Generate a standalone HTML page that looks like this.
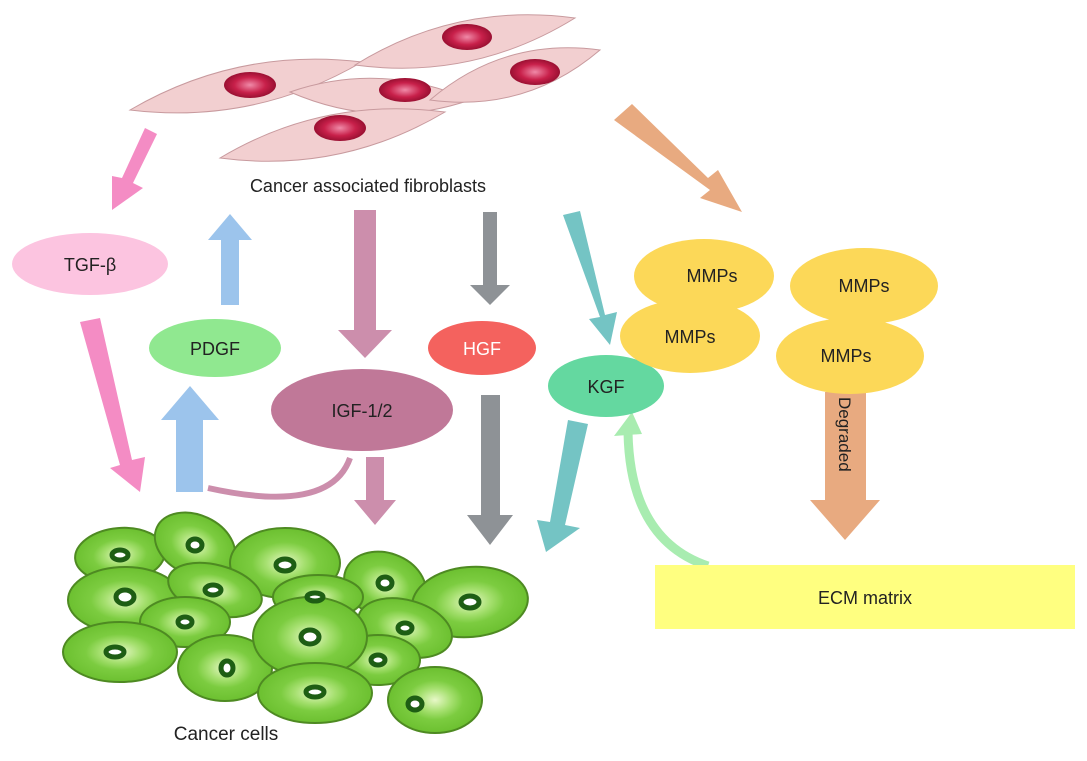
<!DOCTYPE html>
<html><head><meta charset="utf-8"><style>
body{margin:0;background:#fff}
svg text{font-family:"Liberation Sans",Arial,sans-serif}
</style></head><body>
<svg width="1087" height="756" viewBox="0 0 1087 756" xmlns="http://www.w3.org/2000/svg">
<defs>
<radialGradient id="nuc" cx="50%" cy="50%" r="50%"><stop offset="0" stop-color="#f08aa8"/><stop offset="0.6" stop-color="#c8204a"/><stop offset="1" stop-color="#9a1032"/></radialGradient>
<radialGradient id="cell" cx="50%" cy="50%" r="50%"><stop offset="0" stop-color="#e8f8c8"/><stop offset="0.35" stop-color="#a6e070"/><stop offset="0.6" stop-color="#7ccc40"/><stop offset="1" stop-color="#6cc030"/></radialGradient>
</defs>
<g fill="#222">
<!-- fibroblasts -->
<g fill="#f2cfd0" stroke="#c89a9e" stroke-width="1">
<path d="M130,110 Q254,125 362,62 Q238,47 130,110Z"/>
<path d="M355,65 Q473,81 575,18 Q457,2 355,65Z"/>
<path d="M290,92 Q380,131 470,100 Q380,61 290,92Z"/>
<path d="M430,100 Q526,113 600,50 Q504,37 430,100Z"/>
<path d="M220,158 Q340,174 445,112 Q324,96 220,158Z"/>
</g>
<g fill="url(#nuc)">
<ellipse cx="250" cy="85" rx="26" ry="13"/>
<ellipse cx="467" cy="37" rx="25" ry="13"/>
<ellipse cx="405" cy="90" rx="26" ry="12"/>
<ellipse cx="535" cy="72" rx="25" ry="13"/>
<ellipse cx="340" cy="128" rx="26" ry="13"/>
</g>
<text x="368" y="192" font-size="18" text-anchor="middle">Cancer associated fibroblasts</text>

<polygon points="145,128 157,134 133,183 143,188 112,210 112,176 122,178" fill="#f48cc4"/>
<polygon points="80,322 100,318 132,460 145,457 140,492 110,468 120,465" fill="#f48cc4"/>
<polygon points="221,305 239,305 239,240 252,240 230,214 208,240 221,240" fill="#9cc4ec"/>
<polygon points="176,492 203,492 203,420 219,420 190,386 161,420 176,420" fill="#9cc4ec"/>
<polygon points="354,210 376,210 376,330 392,330 365,358 338,330 354,330" fill="#cc8eac"/>
<polygon points="366,457 384,457 384,500 396,500 375,525 354,500 366,500" fill="#cc8eac"/>
<path d="M350,458 Q330,515 208,488" fill="none" stroke="#cc8eac" stroke-width="6"/>
<polygon points="483,212 497,212 497,285 510,285 490,305 470,285 483,285" fill="#8e9296"/>
<polygon points="481,395 500,395 500,515 513,515 490,545 467,515 481,515" fill="#8e9296"/>
<polygon points="563,215 580,211 605,315 617,312 610,345 589,319 600,317" fill="#74c4c4"/>
<polygon points="568,420 588,424 565,525 580,528 546,552 537,520 550,522" fill="#74c4c4"/>
<path d="M708,566 Q630,540 628,432" fill="none" stroke="#a8ecb0" stroke-width="9"/>
<polygon points="614,436 642,434 632,412" fill="#a8ecb0"/>
<polygon points="614,120 632,104 708,178 718,170 742,212 700,198 710,190" fill="#e8aa80"/>
<polygon points="825,392 866,392 866,500 880,500 845,540 810,500 825,500" fill="#e8aa80"/>
<text x="0" y="0" font-size="17" transform="translate(839,397) rotate(90)">Degraded</text>

<ellipse cx="90" cy="264" rx="78" ry="31" fill="#fcc4e0"/>
<text x="90" y="271" font-size="18" text-anchor="middle">TGF-β</text>
<ellipse cx="215" cy="348" rx="66" ry="29" fill="#90e890"/>
<text x="215" y="355" font-size="18" text-anchor="middle">PDGF</text>
<ellipse cx="362" cy="410" rx="91" ry="41" fill="#c07898"/>
<text x="362" y="417" font-size="18" text-anchor="middle">IGF-1/2</text>
<ellipse cx="482" cy="348" rx="54" ry="27" fill="#f4625e"/>
<text x="482" y="355" font-size="18" text-anchor="middle" fill="#fff">HGF</text>
<ellipse cx="606" cy="386" rx="58" ry="31" fill="#64d8a0"/>
<text x="606" y="393" font-size="18" text-anchor="middle">KGF</text>
<g fill="#fcd858">
<ellipse cx="704" cy="276" rx="70" ry="37"/>
<ellipse cx="864" cy="286" rx="74" ry="38"/>
<ellipse cx="690" cy="336" rx="70" ry="37"/>
<ellipse cx="850" cy="356" rx="74" ry="38"/>
</g>
<g font-size="18" text-anchor="middle">
<text x="712" y="282">MMPs</text><text x="864" y="292">MMPs</text>
<text x="690" y="343">MMPs</text><text x="846" y="362">MMPs</text>
</g>
<rect x="655" y="565" width="420" height="64" fill="#ffff80"/>
<text x="865" y="604" font-size="18" text-anchor="middle">ECM matrix</text>

<g stroke="#4e8a22" stroke-width="2" fill="url(#cell)">
<ellipse cx="120" cy="555" rx="45" ry="27" transform="rotate(-5 120 555)"/>
<ellipse cx="195" cy="545" rx="42" ry="30" transform="rotate(25 195 545)"/>
<ellipse cx="285" cy="563" rx="55" ry="35"/>
<ellipse cx="385" cy="585" rx="42" ry="32" transform="rotate(20 385 585)"/>
<ellipse cx="125" cy="600" rx="57" ry="33"/>
<ellipse cx="215" cy="590" rx="48" ry="25" transform="rotate(15 215 590)"/>
<ellipse cx="470" cy="602" rx="58" ry="35" transform="rotate(-5 470 602)"/>
<ellipse cx="318" cy="597" rx="45" ry="22"/>
<ellipse cx="185" cy="622" rx="45" ry="25"/>
<ellipse cx="120" cy="652" rx="57" ry="30"/>
<ellipse cx="405" cy="628" rx="48" ry="28" transform="rotate(15 405 628)"/>
<ellipse cx="378" cy="660" rx="42" ry="25"/>
<ellipse cx="225" cy="668" rx="47" ry="33"/>
<ellipse cx="310" cy="637" rx="57" ry="40"/>
<ellipse cx="315" cy="693" rx="57" ry="30"/>
<ellipse cx="435" cy="700" rx="47" ry="33"/>
</g>
<g fill="#fff" stroke="#1e5e14" stroke-width="5">
<ellipse cx="120" cy="555" rx="8" ry="5"/><ellipse cx="195" cy="545" rx="7" ry="6"/>
<ellipse cx="285" cy="565" rx="9" ry="6"/><ellipse cx="385" cy="583" rx="7" ry="6"/>
<ellipse cx="125" cy="597" rx="9" ry="7"/><ellipse cx="213" cy="590" rx="8" ry="5"/>
<ellipse cx="470" cy="602" rx="9" ry="6"/><ellipse cx="315" cy="597" rx="8" ry="4"/>
<ellipse cx="185" cy="622" rx="7" ry="5"/><ellipse cx="115" cy="652" rx="9" ry="5"/>
<ellipse cx="405" cy="628" rx="7" ry="5"/><ellipse cx="378" cy="660" rx="7" ry="5"/>
<ellipse cx="227" cy="668" rx="6" ry="7"/><ellipse cx="310" cy="637" rx="9" ry="7"/>
<ellipse cx="315" cy="692" rx="9" ry="5"/><ellipse cx="415" cy="704" rx="7" ry="6"/>
</g>
<text x="226" y="740" font-size="19" text-anchor="middle">Cancer cells</text>
</g>
</svg>
</body></html>
